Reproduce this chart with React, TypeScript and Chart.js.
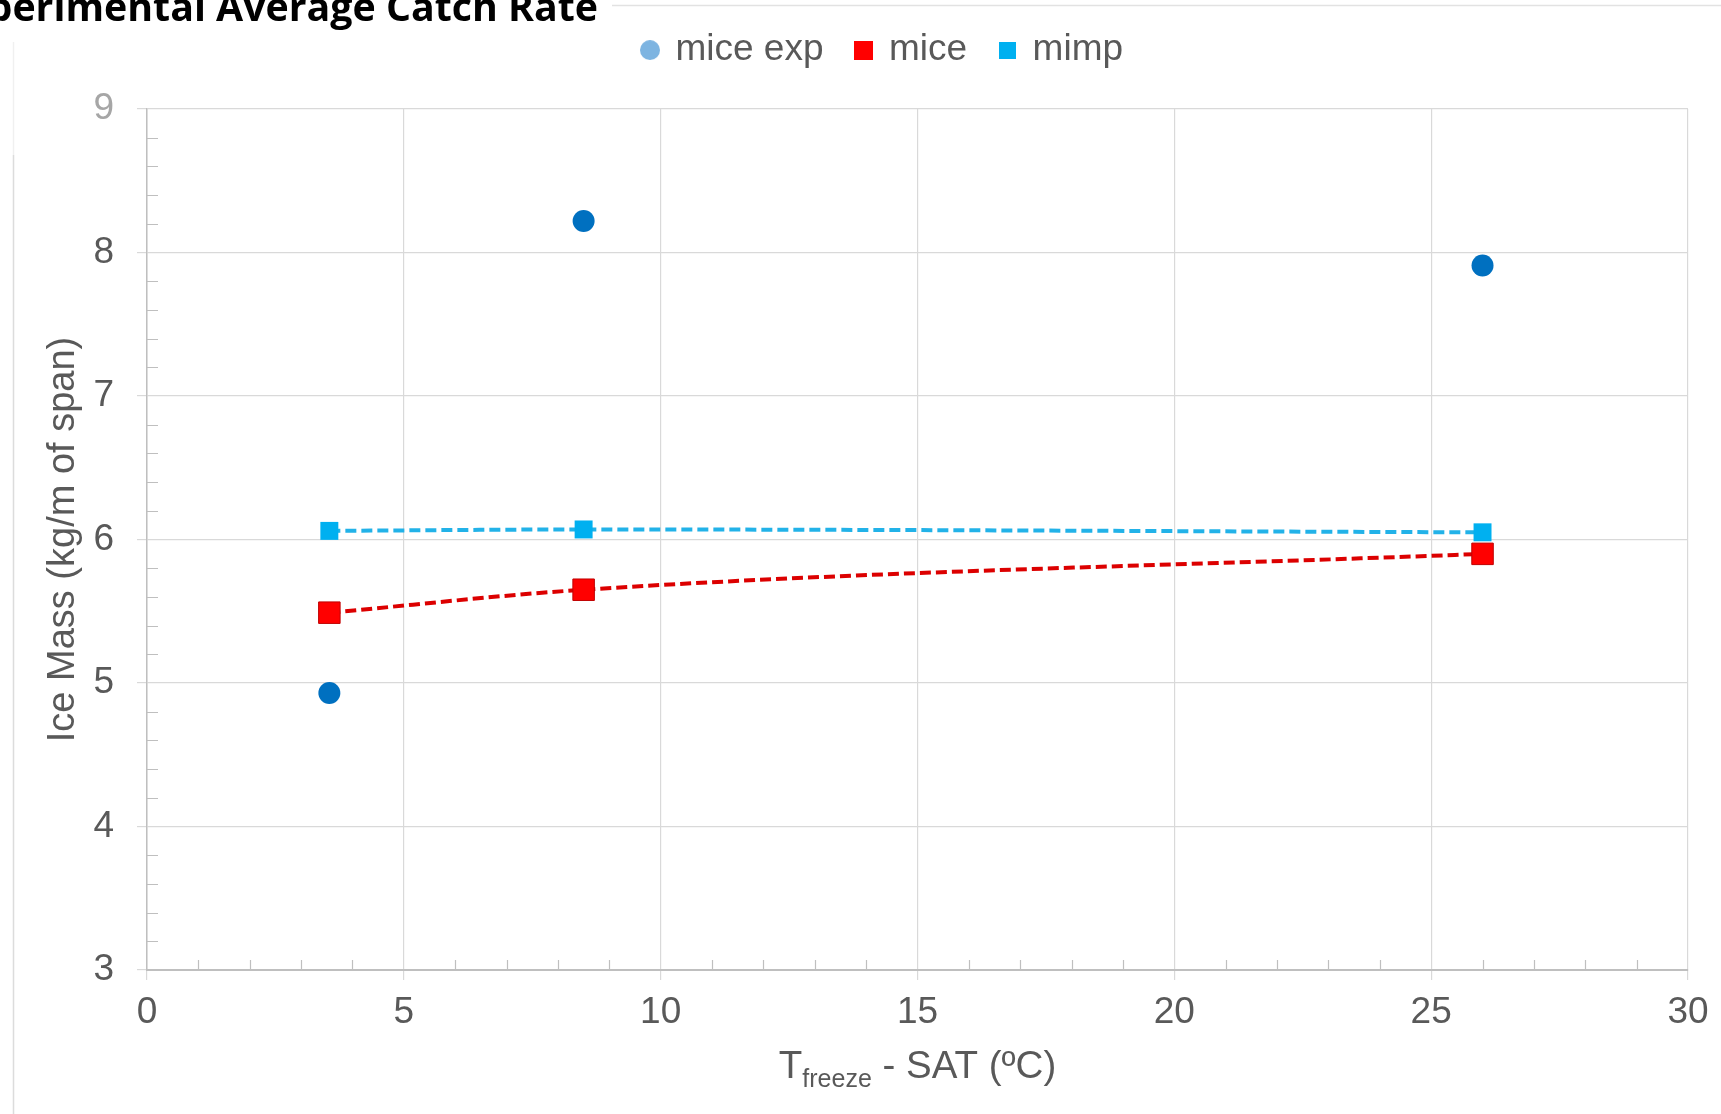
import React, { useEffect, useRef } from 'react';
import { Chart, registerables } from 'chart.js';

Chart.register(...registerables);

// ---- data ----
const seriesNames = ['mice exp', 'mice', 'mimp'];
const xMiceExp = [3.55, 8.5, 26];
const yMiceExp = [4.93, 8.22, 7.91];
const xMice = [3.55, 8.5, 26];
const yMice = [5.49, 5.65, 5.9];
const xMimp = [3.55, 8.5, 26];
const yMimp = [6.06, 6.07, 6.05];
const xTicks = [0, 5, 10, 15, 20, 25, 30];
const yTicks = [3, 4, 5, 6, 7, 8, 9];
const chartTitle = 'Experimental Average Catch Rate';
const yAxisTitle = 'Ice Mass (kg/m of span)';
const xTitleMain = 'T';
const xTitleSub = 'freeze';
const xTitleRest = ' - SAT (ºC)';

const FONT = '"Liberation Sans", Arial, sans-serif';
const TEXT = '#595959';

export default function App() {
  const ref = useRef<HTMLCanvasElement>(null);

  useEffect(() => {
    const canvas = ref.current!;
    const mk = (shape: string, color: string, size: number) => {
      const c = document.createElement('canvas');
      c.width = size;
      c.height = size;
      const g = c.getContext('2d')!;
      g.fillStyle = color;
      if (shape === 'circle') {
        g.beginPath();
        g.arc(size / 2, size / 2, size / 2, 0, Math.PI * 2);
        g.fill();
      } else {
        g.fillRect(0, 0, size, size);
      }
      return c;
    };
    const legendMarkers = [mk('circle', '#7db4e1', 20), mk('rect', '#ff0000', 19), mk('rect', '#00b0f0', 17)];
    const toPts = (xs: number[], ys: number[]) => xs.map((x, i) => ({ x, y: ys[i] }));

    const backgroundPlugin = {
      id: 'bgTitle',
      beforeDraw(chart: any) {
        const ctx = chart.ctx;
        ctx.save();
        ctx.fillStyle = '#ffffff';
        ctx.fillRect(0, 0, chart.width, chart.height);
        // faint frame lines
        ctx.strokeStyle = '#e2e2e2';
        ctx.lineWidth = 1.5;
        ctx.beginPath();
        ctx.moveTo(612, 5.5);
        ctx.lineTo(chart.width, 5.5);
        ctx.stroke();
        ctx.strokeStyle = '#f0f0f0';
        ctx.beginPath();
        ctx.moveTo(13.5, 42);
        ctx.lineTo(13.5, 155);
        ctx.stroke();
        ctx.strokeStyle = '#dcdcdc';
        ctx.beginPath();
        ctx.moveTo(13.5, 155);
        ctx.lineTo(13.5, chart.height);
        ctx.stroke();
        // clipped title
        ctx.fillStyle = '#000000';
        ctx.font = 'bold 39.3px "Open Sans"';
        ctx.textAlign = 'right';
        ctx.textBaseline = 'alphabetic';
        ctx.fillText(chartTitle, 598, 21);
        ctx.restore();
      },
    };

    const legendPlugin = {
      id: 'legendAdjust',
      beforeInit(chart: any) {
        const l = chart.legend;
        const fit = l.fit;
        l.fit = function () {
          fit.call(this);
          this.height += 29;
        };
      },
      afterLayout(chart: any) {
        const l = chart.legend;
        l.left += 39;
        l.right += 39;
        l.top -= 1.4;
      },
    };

    const minorTicksPlugin = {
      id: 'minorTicks',
      beforeDatasetsDraw(chart: any) {
        const ctx = chart.ctx;
        const xs = chart.scales.x;
        const ys = chart.scales.y;
        ctx.save();
        ctx.strokeStyle = '#bfbfbf';
        ctx.lineWidth = 1.2;
        ctx.beginPath();
        const ny = Math.round((ys.max - ys.min) * 5);
        for (let i = 0; i <= ny; i++) {
          if (i % 5 === 0) continue;
          const py = Math.round(ys.getPixelForValue(ys.min + i / 5)) + 0.5;
          ctx.moveTo(xs.left, py);
          ctx.lineTo(xs.left + 11, py);
        }
        for (let v = xs.min; v <= xs.max; v++) {
          if (v % 5 === 0) continue;
          const px = Math.round(xs.getPixelForValue(v)) + 0.5;
          ctx.moveTo(px, ys.bottom);
          ctx.lineTo(px, ys.bottom - 10);
        }
        ctx.stroke();
        ctx.restore();
      },
    };

    const xTitlePlugin = {
      id: 'xTitle',
      afterDraw(chart: any) {
        const ctx = chart.ctx;
        const area = chart.chartArea;
        ctx.save();
        ctx.fillStyle = TEXT;
        ctx.textBaseline = 'alphabetic';
        ctx.textAlign = 'left';
        const big = `38.5px ${FONT}`;
        const small = `25px ${FONT}`;
        ctx.font = big;
        const w1 = ctx.measureText(xTitleMain).width;
        const w3 = ctx.measureText(xTitleRest).width;
        ctx.font = small;
        const w2 = ctx.measureText(xTitleSub).width;
        const total = w1 + w2 + w3;
        let x = (area.left + area.right) / 2 - total / 2;
        const base = 1078;
        ctx.font = big;
        ctx.fillText(xTitleMain, x, base);
        x += w1;
        ctx.font = small;
        ctx.fillText(xTitleSub, x, base + 9);
        x += w2;
        ctx.font = big;
        ctx.fillText(xTitleRest, x, base);
        ctx.restore();
      },
    };

    const chart = new Chart(canvas, {
      type: 'scatter',
      data: {
        datasets: [
          {
            label: seriesNames[0],
            data: toPts(xMiceExp, yMiceExp),
            showLine: false,
            pointStyle: 'circle',
            pointRadius: 11,
            pointHoverRadius: 11,
            backgroundColor: '#0070c0',
            borderColor: '#0070c0',
            pointBorderWidth: 0,
          },
          {
            label: seriesNames[1],
            data: toPts(xMice, yMice),
            showLine: true,
            borderColor: '#dc0000',
            borderWidth: 4,
            borderDash: [11, 5],
            cubicInterpolationMode: 'monotone',
            pointStyle: 'rect',
            pointRadius: 15.2,
            pointHoverRadius: 15.2,
            pointBackgroundColor: '#ff0000',
            pointBorderColor: '#c00000',
            pointBorderWidth: 1,
          },
          {
            label: seriesNames[2],
            data: toPts(xMimp, yMimp),
            showLine: true,
            borderColor: '#22b2e8',
            borderWidth: 4,
            borderDash: [11, 5],
            cubicInterpolationMode: 'monotone',
            pointStyle: 'rect',
            pointRadius: 12.7,
            pointHoverRadius: 12.7,
            pointBackgroundColor: '#00b0f0',
            pointBorderColor: '#00b0f0',
            pointBorderWidth: 0,
          },
        ],
      } as any,
      options: {
        responsive: true,
        maintainAspectRatio: false,
        animation: false,
        layout: { padding: { top: 0, right: 33, bottom: 0, left: 0 } },
        plugins: {
          legend: {
            position: 'top',
            labels: {
              usePointStyle: true,
              boxWidth: 14,
              boxHeight: 20,
              padding: 33,
              color: TEXT,
              font: { family: FONT, size: 37 },
              generateLabels: () =>
                seriesNames.map((n, i) => ({
                  text: n,
                  pointStyle: legendMarkers[i] as any,
                  fillStyle: 'transparent',
                  strokeStyle: 'transparent',
                  lineWidth: 0,
                  hidden: false,
                  datasetIndex: i,
                  fontColor: TEXT,
                })),
            },
          },
          tooltip: { enabled: false },
        },
        scales: {
          x: {
            type: 'linear',
            min: 0,
            max: 30,
            afterBuildTicks: (s: any) => {
              s.ticks = xTicks.map((v) => ({ value: v }));
            },
            afterFit: (s: any) => {
              s.height = 144;
            },
            ticks: {
              color: TEXT,
              font: { family: FONT, size: 37 },
              padding: 11,
              maxRotation: 0,
              autoSkip: false,
            },
            grid: { color: '#d9d9d9', lineWidth: 1.2, tickLength: 10, drawTicks: true },
            border: { color: '#bfbfbf', width: 2 },
          },
          y: {
            type: 'linear',
            min: 3,
            max: 9,
            afterBuildTicks: (s: any) => {
              s.ticks = yTicks.map((v) => ({ value: v }));
            },
            afterFit: (s: any) => {
              s.width = 147;
            },
            ticks: {
              color: (c: any) => (c.tick && c.tick.value === 9 ? '#a6a6a6' : TEXT),
              font: { family: FONT, size: 37 },
              padding: 23,
              autoSkip: false,
            },
            grid: { color: '#d9d9d9', lineWidth: 1.2, tickLength: 10, drawTicks: true },
            border: { color: '#bfbfbf', width: 1.5 },
            title: {
              display: true,
              text: yAxisTitle,
              color: TEXT,
              font: { family: FONT, size: 38 },
              padding: { top: 41, bottom: 0 },
            },
          },
        },
      },
      plugins: [backgroundPlugin, legendPlugin, minorTicksPlugin, xTitlePlugin],
    });
    return () => chart.destroy();
  }, []);

  return (
    <div style={{ position: 'fixed', left: 0, top: 0, width: 1721, height: 1114, background: '#fff' }}>
      <canvas ref={ref} />
    </div>
  );
}
